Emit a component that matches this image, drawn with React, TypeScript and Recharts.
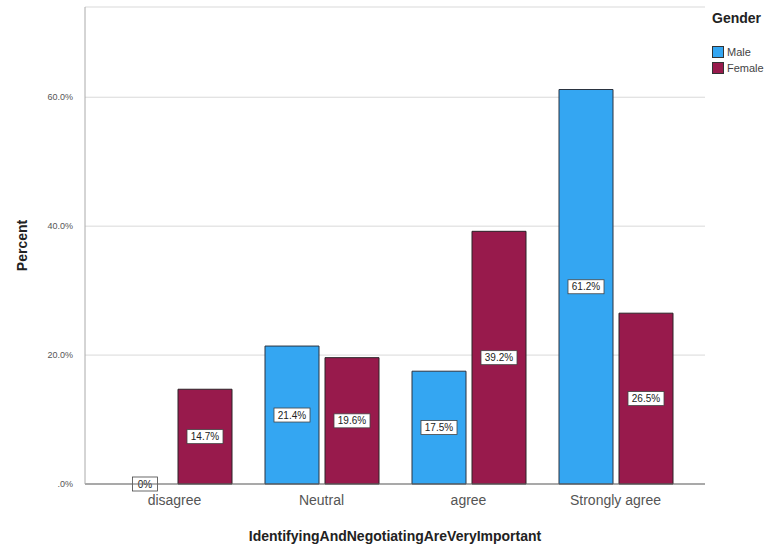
import React from 'react';
import { Bar, BarChart, CartesianGrid, Label, Rectangle, XAxis, YAxis } from 'recharts';

const categories = ['disagree', 'Neutral', 'agree', 'Strongly agree'];
const maleValues = [0, 21.4, 17.5, 61.2];
const femaleValues = [14.7, 19.6, 39.2, 26.5];
const yTicks = [0, 20, 40, 60];
const seriesNames = ['Male', 'Female'];

const MALE = '#34A6F2';
const FEMALE = '#981A4C';
const FONT = '"Liberation Sans", Arial, sans-serif';

const data = categories.map((c, i) => ({ category: c, male: maleValues[i], female: femaleValues[i] }));

const fmtPct = (v: number) => (v === 0 ? '.0%' : `${v.toFixed(1)}%`);

// bar + its boxed percentage label (drawn here so zero-height bars still get a label)
function BarWithBox(props: any) {
  const { x, y, width, height, value, fill, stroke } = props;
  const v = Array.isArray(value) ? value[1] - value[0] : value;
  const text = v === 0 ? '0%' : `${Number(v).toFixed(1)}%`;
  const cx = x + width / 2;
  const cy = y + height / 2;
  const w = v === 0 ? 25 : 36;
  const h = 14;
  return (
    <g>
      {height > 0 && <Rectangle x={x} y={y} width={width} height={height} fill={fill} stroke={stroke} strokeWidth={1} />}
      <rect x={cx - w / 2} y={cy - h / 2} width={w} height={h} fill="#fff" stroke="#444" strokeWidth={0.8} />
      <text x={cx} y={cy + 3.5} textAnchor="middle" fontSize={10} fontFamily={FONT} fill="#222">
        {text}
      </text>
    </g>
  );
}

function GenderLegend() {
  const colors = [MALE, FEMALE];
  return (
    <div style={{ position: 'absolute', left: 712, top: 11, fontFamily: FONT, lineHeight: 1 }}>
      <div style={{ fontWeight: 'bold', fontSize: 14, color: '#222', marginBottom: 19, whiteSpace: 'nowrap' }}>Gender</div>
      {seriesNames.map((n, i) => (
        <div key={n} style={{ display: 'flex', alignItems: 'center', height: 16, whiteSpace: 'nowrap' }}>
          <span style={{ width: 10, height: 10, background: colors[i], border: '1px solid #333', marginRight: 3, display: 'inline-block' }} />
          <span style={{ fontSize: 11, color: '#444' }}>{n}</span>
        </div>
      ))}
    </div>
  );
}

export default function App() {
  return (
    <div style={{ position: 'absolute', left: 0, top: 0, width: 779, height: 551, background: '#fff', overflow: 'hidden' }}>
      <BarChart
        width={779}
        height={551}
        data={data}
        margin={{ top: 7, right: 74, bottom: 0, left: 0 }}
        barSize={54}
        barGap={6}
      >
        <CartesianGrid vertical={false} stroke="#d9d9d9" />
        <XAxis
          dataKey="category"
          height={67}
          padding={{ left: 16, right: 16 }}
          axisLine={{ stroke: '#666' }}
          tickLine={false}
          tick={{ fontSize: 14, fill: '#555', fontFamily: FONT }}
          tickMargin={5}
        >
          <Label
            value="IdentifyingAndNegotiatingAreVeryImportant"
            position="insideBottom"
            offset={10}
            style={{ fontSize: 14, fontWeight: 'bold', fill: '#222', fontFamily: FONT }}
          />
        </XAxis>
        <YAxis
          width={85}
          domain={[0, 74]}
          ticks={yTicks}
          axisLine={{ stroke: '#aaa' }}
          tickLine={false}
          tickFormatter={fmtPct}
          tick={{ fontSize: 9, fill: '#555', fontFamily: FONT }}
          tickMargin={6}
        >
          <Label
            content={(p: any) => {
              const vb = p.viewBox;
              const cx = 22;
              const cy = vb.y + vb.height / 2;
              return (
                <text
                  x={cx}
                  y={cy}
                  transform={`rotate(-90 ${cx} ${cy})`}
                  textAnchor="middle"
                  dominantBaseline="central"
                  fontSize={14}
                  fontWeight="bold"
                  fill="#222"
                  fontFamily={FONT}
                >
                  Percent
                </text>
              );
            }}
          />
        </YAxis>
        <Bar dataKey="male" name="Male" fill={MALE} stroke="#2a3340" isAnimationActive={false} shape={BarWithBox} />
        <Bar dataKey="female" name="Female" fill={FEMALE} stroke="#2a2226" isAnimationActive={false} shape={BarWithBox} />
      </BarChart>
      <GenderLegend />
    </div>
  );
}
